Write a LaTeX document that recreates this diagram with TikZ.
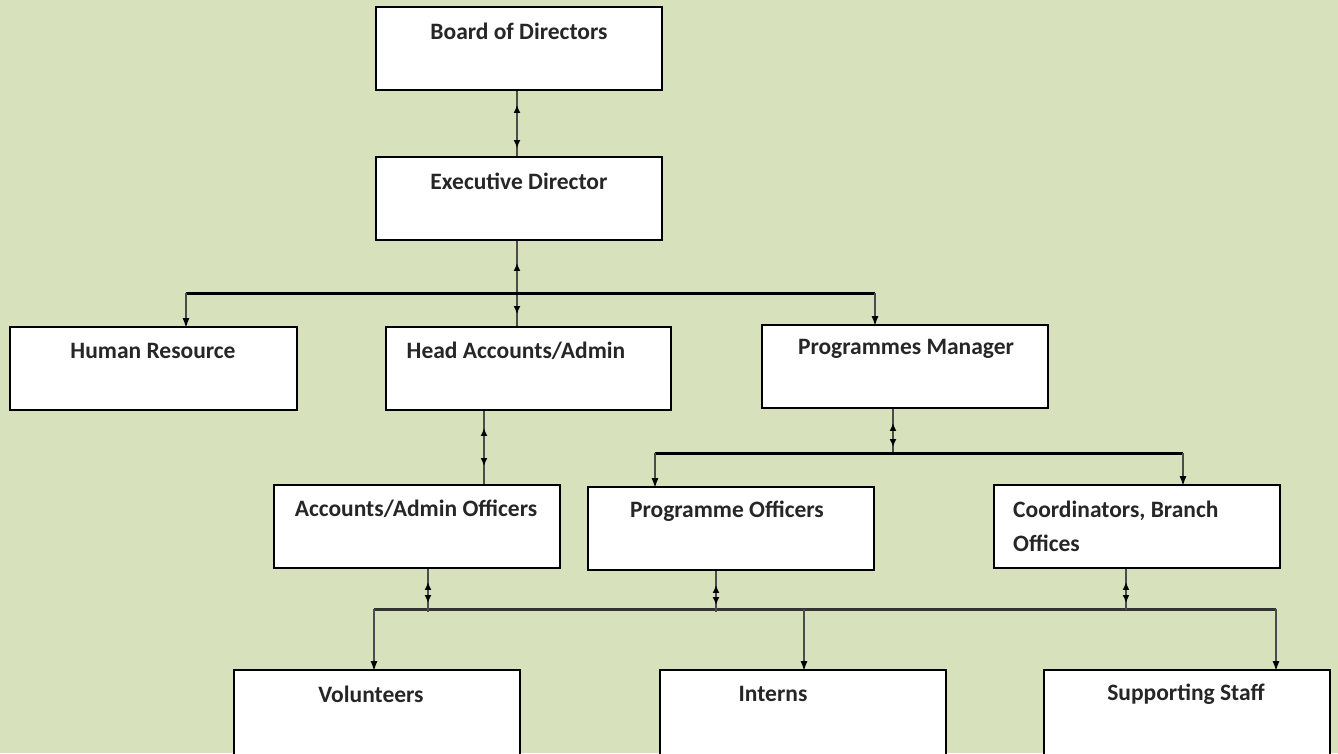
\documentclass[tikz,border=0pt]{standalone}
\usepackage{fontspec}
\setmainfont{Carlito}
\usetikzlibrary{arrows.meta,decorations.markings}
\definecolor{bg}{RGB}{215,226,189}
\begin{document}
\begin{tikzpicture}[x=1pt,y=-1pt,
  box/.style={draw=black, line width=1.8pt, fill=white, minimum width=286pt, minimum height=83pt, inner sep=0pt},
  lbl/.style={font=\bfseries\fontsize{23.5}{34}\selectfont, text=black!85, inner sep=0pt},
  conn/.style={draw=black!70, line width=1.6pt},
  bus/.style={draw=black, line width=3pt},
  tipend/.style={-{Latex[length=10pt,width=7pt,color=black]}},
  dbl/.style 2 args={postaction={decorate}, decoration={markings,
      mark=at position #1 with {\arrowreversed{Latex[length=8pt,width=7pt,color=black]}},
      mark=at position #2 with {\arrow{Latex[length=8pt,width=7pt,color=black]}}}}
]
\fill[bg] (0,0) rectangle (1338,753);
\useasboundingbox (0,0) rectangle (1338,753);
\clip (0,0) rectangle (1338,753);

% boxes
\node[box] (bod) at (519,48.5) {};
\node[box] (exe) at (519,198.5) {};
\node[box, minimum width=287pt] (hr) at (153.5,368.5) {};
\node[box, minimum width=285pt] (hea) at (528.5,368.5) {};
\node[box] (pm) at (905,366.5) {};
\node[box] (aao) at (417,526.5) {};
\node[box] (po) at (731,528.5) {};
\node[box] (co) at (1137,526.5) {};
\node[box, minimum height=90pt] (vol) at (377,715) {};
\node[box, minimum height=90pt] (int) at (803,715) {};
\node[box, minimum height=90pt] (sup) at (1187,715) {};

% texts
\node[lbl] (tbod) at (519,31) {Board of Directors};
\node[lbl] (texe) at (519,181) {Executive Director};
\node[lbl] (thr) at (153,351) {Human Resource};
\node[lbl] (thea) at (516,351) {Head Accounts/Admin};
\node[lbl] (tpm) at (906,349) {Programmes Manager};
\node[lbl] (taao) at (416,509) {Accounts/Admin Officers};
\node[lbl] (tpo) at (727,511) {Programme Officers};
\node[lbl, anchor=west, align=left] (tco) at (1013,526) {Coordinators, Branch\\Offices};
\node[lbl] (tvol) at (371,694) {Volunteers};
\node[lbl] (tint) at (773,694) {Interns};
\node[lbl] (tsup) at (1186,694) {Supporting Staff};

% bus coordinates
\coordinate (b1l) at (186,293);
\coordinate (b1r) at (875,293);
\coordinate (b2l) at (655,453);
\coordinate (b2r) at (1183,453);
\coordinate (b2m) at (893,455);
\coordinate (b3l) at (374,609);
\coordinate (b3r) at (1276,609);
\coordinate (b3i) at (804,609);
\coordinate (r1) at (428,612);
\coordinate (r2) at (716,612);
\coordinate (r3) at (1126,610);

% connectors
\draw[conn, dbl={14pt}{-8pt}] ([xshift=-2pt]bod.south) -- ([xshift=-2pt]exe.north);
\draw[conn, dbl={22pt}{-12pt}] ([xshift=-2pt]exe.south) -- ([xshift=-2pt]exe.south |- hea.north);
\draw[bus] (b1l) -- (b1r);
\draw[conn, tipend] (b1l) -- ([yshift=-2pt]b1l |- hr.north);
\draw[conn, tipend] (b1r) -- ([yshift=-2pt]b1r |- pm.north);

\draw[conn, dbl={14pt}{-8pt}] (pm.south -| b2m) -- (b2m);
\draw[bus] (b2l) -- (b2r);
\draw[conn, tipend] (b2l) -- ([yshift=-2pt]b2l |- po.north);
\draw[conn, tipend] (b2r) -- ([yshift=-2pt]b2r |- co.north);

\draw[conn, dbl={17pt}{-18pt}] ([xshift=-44.5pt]hea.south) -- ([xshift=67pt]aao.north);

\draw[bus, draw=black!80] (b3l) -- (b3r);
\draw[conn, dbl={13pt}{-9pt}] (aao.south -| r1) -- (r1);
\draw[conn, dbl={14pt}{-7pt}] (po.south -| r2) -- (r2);
\draw[conn, dbl={13pt}{-7pt}] (co.south -| r3) -- (r3);
\draw[conn, tipend] (b3l) -- ([yshift=-2pt]b3l |- vol.north);
\draw[conn, tipend] (b3i) -- ([yshift=-2pt]b3i |- int.north);
\draw[conn, tipend] (b3r) -- ([yshift=-2pt]b3r |- sup.north);
\end{tikzpicture}
\end{document}
